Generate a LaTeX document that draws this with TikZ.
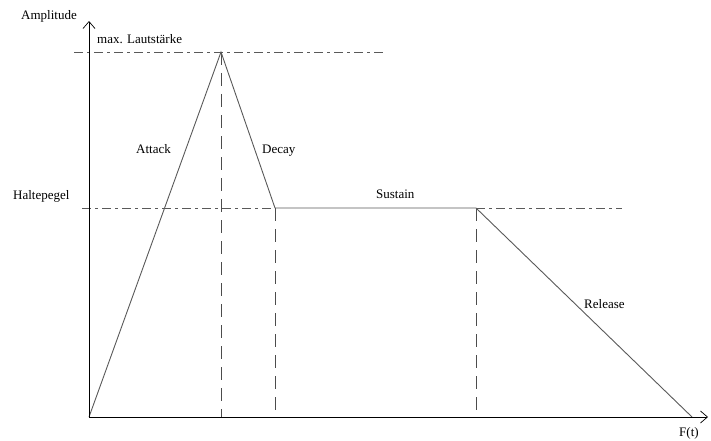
\documentclass[tikz,border=0pt]{standalone}
\usepackage{fontspec}
\setmainfont{Liberation Serif}
\usetikzlibrary{arrows.meta}
\begin{document}
\begin{tikzpicture}[x=1pt,y=-1pt,
  every node/.style={font=\fontsize{13}{15}\selectfont, inner sep=0pt},
  axis/.style={draw=black, line width=1pt, -{Straight Barb[length=7pt,width=12pt,line width=0.7pt]}},
  curve/.style={draw=black!65, line width=0.9pt},
  guide/.style={draw=black!65, line width=0.9pt, dash pattern=on 9pt off 4pt on 3pt off 4pt},
  vdash/.style={draw=black!70, line width=0.9pt, dash pattern=on 13pt off 8pt}]
\useasboundingbox (0,0) rectangle (711,441);
\coordinate (o) at (89,417);
\coordinate (ytop) at (89,21);
\coordinate (xend) at (708,417);
\coordinate (peak) at (221,52);
\coordinate (dend) at (275,208);
\coordinate (send) at (476,208);
\coordinate (rend) at (692,417);
\coordinate (m1) at (74,52);
\coordinate (m2) at (383,52);
\coordinate (h1) at (82,208);
\coordinate (h2) at (622,208);
\coordinate (b1) at (221,417);
\coordinate (b2) at (275,417);
\coordinate (b3) at (476,417);
% guides
\draw[guide] (m1) -- (m2);
\draw[guide] (h1) -- (dend);
\draw[guide] (send) -- (h2);
\draw[vdash] (peak) -- (b1);
\draw[vdash] (dend) -- (b2);
\draw[vdash] (send) -- (b3);
% envelope
\draw[curve] (o) -- (peak) -- (dend) -- (send) -- (rend);
% axes
\draw[axis] (o) -- (ytop);
\draw[axis] (o) -- (xend);
% labels
\node[anchor=base west] (amp) at (21,20) {Amplitude};
\node[anchor=base west] (max) at (97,44) {max. Lautstärke};
\node[anchor=base west] (att) at (136,153) {Attack};
\node[anchor=base west] (dec) at (262,153) {Decay};
\node[anchor=base west] (hal) at (13,199) {Haltepegel};
\node[anchor=base west] (sus) at (376,198) {Sustain};
\node[anchor=base west] (rel) at (584,308) {Release};
\node[anchor=base west] (ft) at (679,436.5) {F(t)};
\end{tikzpicture}
\end{document}
